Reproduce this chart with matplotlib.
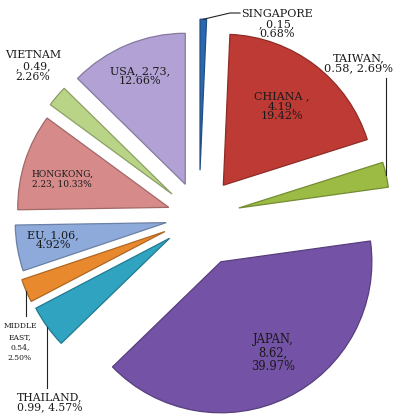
import matplotlib
matplotlib.use('Agg')
import matplotlib.pyplot as plt
import numpy as np

# data (clockwise from 12 o'clock)
countries = ['SINGAPORE', 'CHIANA', 'TAIWAN', 'JAPAN', 'THAILAND',
             'MIDDLE EAST', 'EU', 'HONGKONG', 'VIETNAM', 'USA']
values = [0.15, 4.19, 0.58, 8.62, 0.99, 0.54, 1.06, 2.23, 0.49, 2.73]
percents = [0.68, 19.42, 2.69, 39.97, 4.57, 2.50, 4.92, 10.33, 2.26, 12.66]
label_texts = ['SINGAPORE\n, 0.15,\n0.68%',
               'CHIANA ,\n4.19,\n19.42%',
               'TAIWAN,\n0.58, 2.69%',
               'JAPAN,\n8.62,\n39.97%',
               'THAILAND,\n0.99, 4.57%',
               'MIDDLE\nEAST,\n0.54,\n2.50%',
               'EU, 1.06,\n4.92%',
               'HONGKONG,\n2.23, 10.33%',
               'VIETNAM\n, 0.49,\n2.26%',
               'USA, 2.73,\n12.66%']

colors = ['#2C68B0', '#BE3A34', '#9BBB45', '#7452A6', '#2FA3C0',
          '#E8892E', '#8EAADB', '#D68B8A', '#B9D486', '#B2A1D4']
explode = [0.31, 0.265, 0.27, 0.33, 0.24, 0.245, 0.22, 0.21, 0.235, 0.235]

# pixel -> data helper (pie centre at ~(199, 217) px, radius ~151 px)
CX, CY, R = 199, 217, 151
W, H = 396, 418


def px(x, y):
    return (x - CX) / R, (CY - y) / R


def darker(c, f=0.7):
    rgb = np.array(matplotlib.colors.to_rgb(c))
    return tuple(rgb * f)


fig = plt.figure(figsize=(W / 100, H / 100), dpi=100)
ax = fig.add_axes([0, 0, 1, 1])

wedges, _ = ax.pie(values, explode=explode, colors=colors, startangle=90,
                   counterclock=False, radius=1,
                   wedgeprops=dict(linewidth=0.9))
for w, c in zip(wedges, colors):
    w.set_edgecolor(darker(c, 0.75))

ax.set_aspect('equal')
ax.set_xlim(-CX / R, (W - CX) / R)
ax.set_ylim(-(H - CY) / R, CY / R)
ax.axis('off')


def arc_mid(w):
    a = np.deg2rad((w.theta1 + w.theta2) / 2)
    cx, cy = w.center
    return cx + w.r * np.cos(a), cy + w.r * np.sin(a)


font = 'DejaVu Serif'
tc = '#1a1a1a'
# label centre (px), font size, line spacing
label_pos = [(277, 24), (282, 106), (359, 63), (273, 353), (50, 402),
             (20, 342), (53, 240), (62, 179), (33, 66), (140, 76)]
label_size = [8.0, 8.0, 8.2, 8.3, 7.8, 5.5, 8.0, 6.5, 7.8, 8.0]
label_ls = [1.0, 1.0, 1.0, 1.0, 1.0, 1.4, 1.0, 1.1, 1.1, 0.95]

for txt, pos, fs, ls in zip(label_texts, label_pos, label_size, label_ls):
    x, y = px(*pos)
    ax.text(x, y, txt, ha='center', va='center', multialignment='center',
            fontsize=fs, family=font, color=tc, linespacing=ls)

# leader lines
lc = '#222222'
# Singapore: tip -> elbow -> label
sx, sy = arc_mid(wedges[0])
ex, ey = px(230, 13)
hx, hy = px(240, 13)
ax.plot([sx, ex, hx], [sy, ey, hy], color=lc, lw=0.8)
# Taiwan: vertical from tip up to label
tx, ty = arc_mid(wedges[2])
ax.plot([tx, tx], [ty, px(0, 78)[1]], color=lc, lw=0.8)
# Thailand: vertical from arc down to label
thx, thy = arc_mid(wedges[4])
ax.plot([thx, thx], [thy, px(0, 388)[1]], color=lc, lw=0.8)
# Middle East
mx, my = arc_mid(wedges[5])
ax.plot([mx, mx], [my, px(0, 316)[1]], color=lc, lw=0.8)

fig.savefig('out.png', dpi=100)
